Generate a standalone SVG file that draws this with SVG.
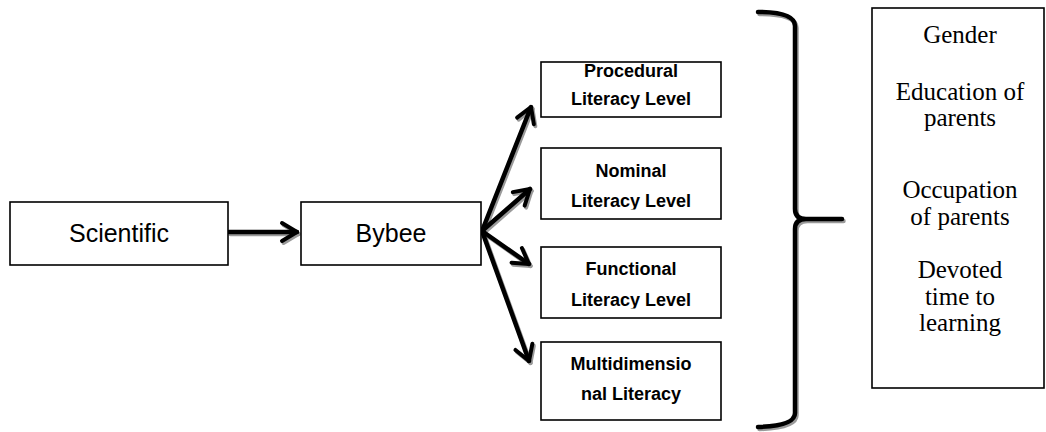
<svg xmlns="http://www.w3.org/2000/svg" width="1046" height="432" viewBox="0 0 1046 432">
<style>
.box{fill:#fff;stroke:#000;stroke-width:1.6}
.t1{font-family:"Liberation Sans",Arial,sans-serif;font-size:25px;fill:#000;text-anchor:middle}
.t2{font-family:"Liberation Sans",Arial,sans-serif;font-size:18px;font-weight:bold;fill:#000;text-anchor:middle}
.t3{font-family:"Liberation Serif","Times New Roman",serif;font-size:25px;fill:#000;text-anchor:middle}
.ln{fill:none;stroke:#000;stroke-width:4.5;stroke-linecap:round;stroke-linejoin:round}
.sh{fill:none;stroke:#9a9a9a;stroke-width:4.5;stroke-linecap:round;stroke-linejoin:round}
</style>
<defs>
<marker id="ah" viewBox="0 0 24 24" refX="19" refY="12" markerWidth="24" markerHeight="24" markerUnits="userSpaceOnUse" orient="auto">
<path d="M4,3 L19,12 L4,21" fill="none" stroke="#000" stroke-width="4" stroke-linecap="round" stroke-linejoin="round"/>
</marker>
<marker id="ahs" viewBox="0 0 24 24" refX="19" refY="12" markerWidth="24" markerHeight="24" markerUnits="userSpaceOnUse" orient="auto">
<path d="M4,3 L19,12 L4,21" fill="none" stroke="#9a9a9a" stroke-width="4" stroke-linecap="round" stroke-linejoin="round"/>
</marker>
<clipPath id="c2"><rect x="541" y="148" width="180" height="61.5"/></clipPath>
<clipPath id="c3"><rect x="541" y="247" width="180" height="61.5"/></clipPath>
</defs>
<rect width="1046" height="432" fill="#fff"/>
<g id="connectors">
<g transform="translate(1.5,2)">
<path class="sh" d="M229,232 H297" marker-end="url(#ahs)"/>
<path class="sh" d="M482,231 L531,107" marker-end="url(#ahs)"/>
<path class="sh" d="M482,231 L530,189" marker-end="url(#ahs)"/>
<path class="sh" d="M482,231 L529,264" marker-end="url(#ahs)"/>
<path class="sh" d="M482,231 L529,361" marker-end="url(#ahs)"/>
<path class="sh" d="M758,12 Q795,12 795,26 V209 Q795,219 806,219 H842 M806,219 Q795,219 795,229 V413 Q795,426 758,427"/>
</g>
<path class="ln" d="M229,232 H297" marker-end="url(#ah)"/>
<path class="ln" d="M482,231 L531,107" marker-end="url(#ah)"/>
<path class="ln" d="M482,231 L530,189" marker-end="url(#ah)"/>
<path class="ln" d="M482,231 L529,264" marker-end="url(#ah)"/>
<path class="ln" d="M482,231 L529,361" marker-end="url(#ah)"/>
<path class="ln" d="M758,12 Q795,12 795,26 V209 Q795,219 806,219 H842 M806,219 Q795,219 795,229 V413 Q795,426 758,427"/>
</g>
<g id="scientific">
<rect class="box" x="10" y="202" width="218" height="63"/>
<text class="t1" x="119" y="242">Scientific</text>
</g>
<g id="bybee">
<rect class="box" x="301" y="202" width="180" height="63"/>
<text class="t1" x="391" y="242">Bybee</text>
</g>
<g id="procedural">
<rect class="box" x="541" y="62" width="180" height="55"/>
<text class="t2" x="631" y="77">Procedural</text>
<text class="t2" x="631" y="105">Literacy Level</text>
</g>
<g id="nominal">
<rect class="box" x="541" y="148" width="180" height="71"/>
<text class="t2" x="631" y="177">Nominal</text>
<text class="t2" x="631" y="207" clip-path="url(#c2)">Literacy Level</text>
</g>
<g id="functional">
<rect class="box" x="541" y="247" width="180" height="71"/>
<text class="t2" x="631" y="275">Functional</text>
<text class="t2" x="631" y="306" clip-path="url(#c3)">Literacy Level</text>
</g>
<g id="multidimensional">
<rect class="box" x="541" y="342" width="180" height="78"/>
<text class="t2" x="631" y="370">Multidimensio</text>
<text class="t2" x="631" y="400">nal Literacy</text>
</g>
<g id="factors">
<rect class="box" x="872" y="8" width="172" height="380"/>
<text class="t3" x="960" y="43">Gender</text>
<text class="t3" x="960" y="100">Education of</text>
<text class="t3" x="960" y="126">parents</text>
<text class="t3" x="960" y="198">Occupation</text>
<text class="t3" x="960" y="225">of parents</text>
<text class="t3" x="960" y="278">Devoted</text>
<text class="t3" x="960" y="305">time to</text>
<text class="t3" x="960" y="331">learning</text>
</g>
</svg>
